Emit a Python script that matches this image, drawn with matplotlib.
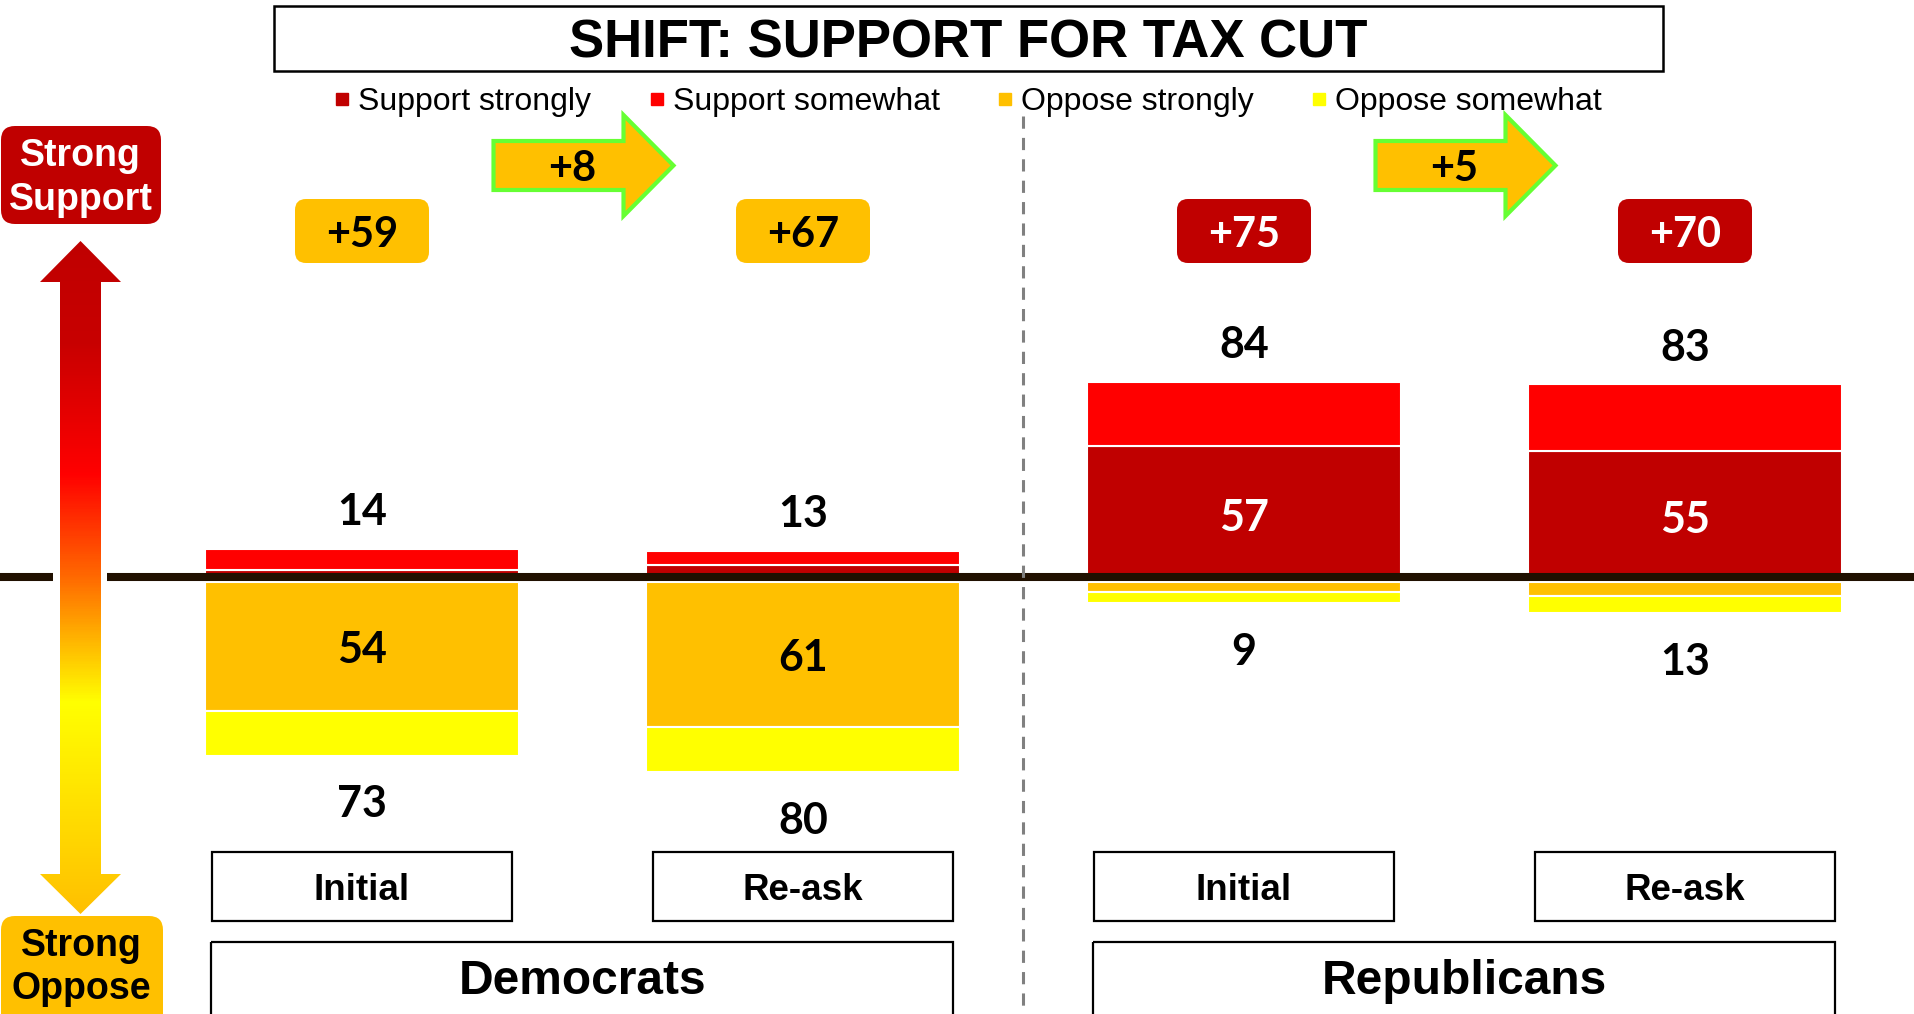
import numpy as np
import matplotlib.pyplot as plt
from matplotlib.patches import FancyBboxPatch, Rectangle, Polygon
from matplotlib.colors import LinearSegmentedColormap
from matplotlib.lines import Line2D

W, H = 1915, 1014

groups = ["Democrats", "Republicans"]
waves = ["Initial", "Re-ask", "Initial", "Re-ask"]
support_strongly = [5, 7, 57, 55]
support_somewhat = [9, 6, 27, 28]
oppose_strongly = [54, 61, 4, 6]
oppose_somewhat = [19, 19, 5, 7]
series_names = ["Support strongly", "Support somewhat", "Oppose strongly", "Oppose somewhat"]
series_colors = ["#C00000", "#FF0000", "#FFC000", "#FFFF00"]

ARIAL = ["Liberation Sans", "DejaVu Sans"]
CAL = ["Lato", "DejaVu Sans"]

sup_s = np.array(support_strongly)
sup_w = np.array(support_somewhat)
opp_s = np.array(oppose_strongly)
opp_w = np.array(oppose_somewhat)
sup_total = sup_s + sup_w
opp_total = opp_s + opp_w
net = sup_total - opp_total

fig = plt.figure(figsize=(W / 100, H / 100), dpi=100)
fig.patch.set_facecolor("white")

# bars axis: category index on x, percent on y (zero sits at pixel row 582)
ax = fig.add_axes([0, 0, 1, 1])
ax.set_xlim(-362 / 441, (W - 362) / 441)
zero_px, px_per_pt = 582, 2.38
ax.set_ylim(-(H - zero_px) / px_per_pt, zero_px / px_per_pt)
ax.axis("off")

# decoration axis in pixels, origin top-left
deco = fig.add_axes([0, 0, 1, 1], zorder=3)
deco.patch.set_alpha(0)
deco.axis("off")

x = np.arange(len(waves))
bw = 0.712
kw = dict(width=bw, edgecolor="white", linewidth=1.5)
ax.bar(x, sup_s, color=series_colors[0], **kw)
ax.bar(x, sup_w, bottom=sup_s, color=series_colors[1], **kw)
ax.bar(x, -opp_s, color=series_colors[2], **kw)
ax.bar(x, -opp_w, bottom=-opp_s, color=series_colors[3], **kw)

lab = dict(ha="center", va="center", fontsize=31, fontweight="bold", family=CAL,
           textcoords="offset points")
for i in x:
    ax.annotate(str(sup_total[i]), (i, sup_total[i]), xytext=(0, 26.5), **lab)
    ax.annotate(str(opp_total[i]), (i, -opp_total[i]), xytext=(0, -35), **lab)
    if opp_s[i] >= 30:
        ax.annotate(str(opp_s[i]), (i, -opp_s[i] / 2), xytext=(0, -2.5), color="black", **lab)
    if sup_s[i] >= 30:
        ax.annotate(str(sup_s[i]), (i, sup_s[i] / 2), xytext=(0, -2.5), color="white", **lab)


def cx(i):
    return ax.transData.transform((i, 0))[0]


# gradient arrow on the left
cmap = LinearSegmentedColormap.from_list("scale", [
    (0.0, "#C00000"), (0.15, "#C80000"), (0.345, "#FF0000"),
    (0.5, "#FF6A00"), (0.686, "#FFFF00"), (1.0, "#FFC000")])
verts = [(80.5, 241), (121, 282), (101, 282), (101, 874), (121, 874), (80.5, 914),
         (40, 874), (60, 874), (60, 282), (40, 282)]
shape = Polygon(verts, closed=True, facecolor="none", edgecolor="none")
deco.add_patch(shape)
grad = np.linspace(0, 1, 600).reshape(-1, 1)
im = deco.imshow(grad, cmap=cmap, extent=(40, 121, 914, 241), aspect="auto",
                 origin="upper", interpolation="bilinear")
im.set_clip_path(shape)
deco.set_xlim(0, W)
deco.set_ylim(H, 0)

# baseline and divider
base_y = H - ax.transData.transform((0, 0))[1] - 5.5
deco.plot([0, 53], [base_y, base_y], color="#201000", lw=5.8, solid_capstyle="butt")
deco.plot([107, W], [base_y, base_y], color="#201000", lw=5.8, solid_capstyle="butt")
mid = (cx(1) + cx(2)) / 2
deco.plot([mid, mid], [116, H], color="#808080", lw=2.2, ls=(0, (4, 3)))

# end labels of the scale
end_txt = dict(ha="center", va="center", fontsize=27, fontweight="bold", family=ARIAL)
deco.add_patch(FancyBboxPatch((1, 126), 160, 98, boxstyle="round,pad=0,rounding_size=14",
                              fc="#C00000", ec="none"))
deco.text(80.5, 156, "Strong", color="white", **end_txt)
deco.text(80.5, 200, "Support", color="white", **end_txt)
deco.add_patch(FancyBboxPatch((1, 916), 162, 115, boxstyle="round,pad=0,rounding_size=14",
                              fc="#FFC000", ec="none"))
deco.text(81.5, 946, "Strong", color="black", **end_txt)
deco.text(81.5, 989, "Oppose", color="black", **end_txt)

# title
deco.add_patch(Rectangle((274, 6), 1389, 65, fill=False, ec="black", lw=1.8))
deco.text(968, 43, "SHIFT: SUPPORT FOR TAX CUT", ha="center", va="center", fontsize=38,
          fontweight="bold", family=ARIAL)

# legend
handles = [Line2D([], [], marker="s", ls="none", markersize=8.6, markerfacecolor=c,
                  markeredgecolor=c) for c in series_colors]
fig.legend(handles, series_names, loc="center", bbox_to_anchor=(969 / W, 1 - 102 / H), ncol=4,
           frameon=False, prop={"family": "Liberation Sans", "size": 23}, handlelength=0.4,
           handletextpad=0.3, columnspacing=1.85, borderpad=0)

# net margin boxes
for i in x:
    c = cx(i)
    fc = "#C00000" if net[i] > 0 else "#FFC000"
    tc = "white" if net[i] > 0 else "black"
    deco.add_patch(FancyBboxPatch((c - 67, 199), 134, 64, boxstyle="round,pad=0,rounding_size=11",
                                  fc=fc, ec="none"))
    deco.text(c, 235, f"+{abs(net[i])}", ha="center", va="center", color=tc, fontsize=30,
              fontweight="bold", family=CAL)

# shift arrows
for g in range(len(groups)):
    a, b = 2 * g, 2 * g + 1
    m = (cx(a) + cx(b)) / 2
    shift = net[a] - net[b]
    pts = [(m - 89, 141), (m + 41, 141), (m + 41, 115), (m + 91, 165.5), (m + 41, 216),
           (m + 41, 190), (m - 89, 190)]
    deco.add_patch(Polygon(pts, closed=True, fc="#FFC000", ec="#66FF33", lw=3, joinstyle="miter"))
    deco.text(m - 10, 169, f"+{shift}", ha="center", va="center", fontsize=30,
              fontweight="bold", family=CAL)

# wave and group label boxes
for i in x:
    c = cx(i)
    deco.add_patch(Rectangle((c - 150, 852), 300, 69, fill=False, ec="black", lw=1.6))
    deco.text(c, 890, waves[i], ha="center", va="center", fontsize=26.5, fontweight="bold",
              family=ARIAL)
for g, name in enumerate(groups):
    m = (cx(2 * g) + cx(2 * g + 1)) / 2
    deco.add_patch(Rectangle((m - 371, 942), 742, 90, fill=False, ec="black", lw=1.6))
    deco.text(m, 982, name, ha="center", va="center", fontsize=34.5, fontweight="bold",
              family=ARIAL)

fig.savefig("out.png", dpi=100, facecolor="white")
